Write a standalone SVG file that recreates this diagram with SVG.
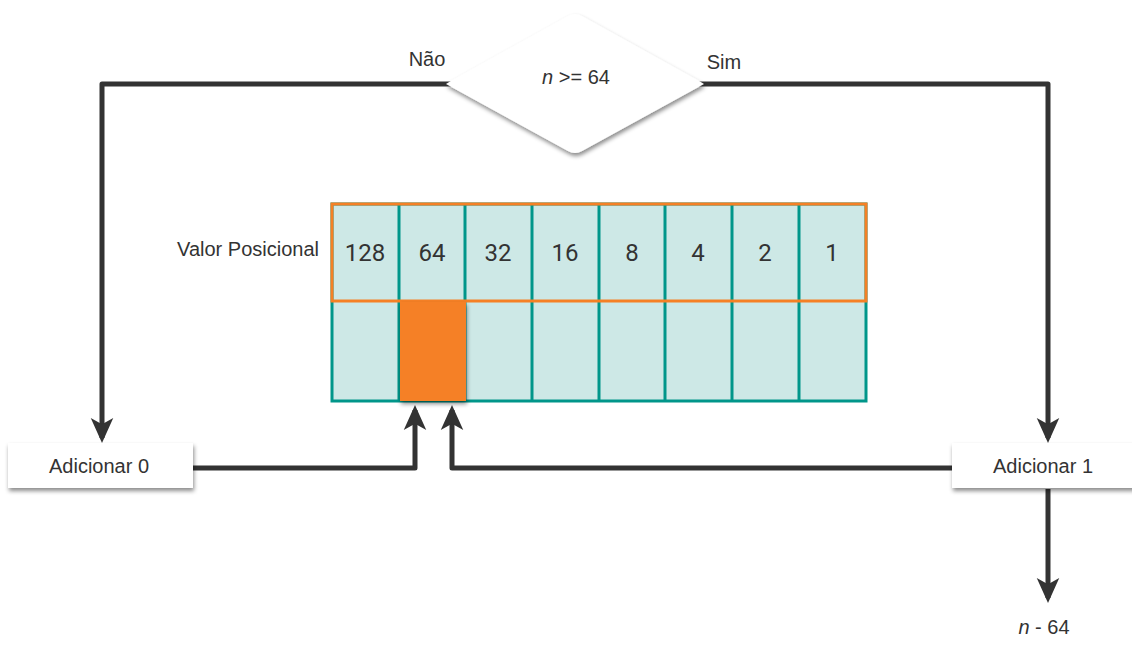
<svg xmlns="http://www.w3.org/2000/svg" width="1132" height="648" viewBox="0 0 1132 648">
<style>
.ln{fill:none;stroke:#333;stroke-width:5;stroke-linejoin:round}
.t{font-family:"Liberation Sans",Arial,sans-serif;font-size:20px;fill:#333}
.num{font-family:Roboto,"Liberation Sans",sans-serif;font-size:24px;fill:#333;text-anchor:middle}
.cell{fill:#cde8e6;stroke:#00968a;stroke-width:3}
</style>
<defs>
<marker id="ah" viewBox="0 0 20 20" refX="16" refY="10" markerWidth="5" markerHeight="5" markerUnits="strokeWidth" orient="auto">
<path d="M0,1 L20,10 L0,19 L5,10 Z" fill="#333"/>
</marker>
<filter id="sh" x="-20%" y="-20%" width="140%" height="150%">
<feDropShadow dx="1" dy="3" stdDeviation="2" flood-color="#000" flood-opacity="0.45"/>
</filter>
</defs>
<rect width="1132" height="648" fill="#fff"/>
<g id="connectors">
<polyline class="ln" points="452,84 102,84 102,438" marker-end="url(#ah)"/>
<polyline class="ln" points="698,84 1048,84 1048,438" marker-end="url(#ah)"/>
<polyline class="ln" points="193,468 415,468 415,410" marker-end="url(#ah)"/>
<polyline class="ln" points="952,468 452,468 452,410" marker-end="url(#ah)"/>
<polyline class="ln" points="1048,489 1048,598" marker-end="url(#ah)"/>
</g>
<g id="decision">
<path d="M446,84 Q452,80 458,77 L568,16 Q575,12 582,16 L692,77 Q698,80 704,84 L582,151 Q575,155 568,151 Z" fill="#fff" filter="url(#sh)"/>
<text class="t" x="576" y="84" text-anchor="middle"><tspan font-style="italic">n</tspan> &gt;= 64</text>
</g>
<text class="t" x="427" y="66" text-anchor="middle">Não</text>
<text class="t" x="724" y="69" text-anchor="middle">Sim</text>
<g id="table">
<text class="t" x="319" y="256" text-anchor="end">Valor Posicional</text>
<rect class="cell" x="332" y="204" width="534" height="197"/>
<g stroke="#00968a" stroke-width="3">
<line x1="399" y1="204" x2="399" y2="401"/>
<line x1="465" y1="204" x2="465" y2="401"/>
<line x1="532" y1="204" x2="532" y2="401"/>
<line x1="599" y1="204" x2="599" y2="401"/>
<line x1="665" y1="204" x2="665" y2="401"/>
<line x1="732" y1="204" x2="732" y2="401"/>
<line x1="799" y1="204" x2="799" y2="401"/>
</g>
<rect x="332" y="204" width="534" height="97" fill="none" stroke="#f58025" stroke-width="3"/>
<rect x="400" y="302" width="66" height="99" fill="#f58025" filter="url(#sh)"/>
<text class="num" x="365" y="261">128</text>
<text class="num" x="432" y="261">64</text>
<text class="num" x="498" y="261">32</text>
<text class="num" x="565" y="261">16</text>
<text class="num" x="632" y="261">8</text>
<text class="num" x="698" y="261">4</text>
<text class="num" x="765" y="261">2</text>
<text class="num" x="832" y="261">1</text>
</g>
<g id="add0">
<rect x="8" y="443" width="185" height="45" fill="#fff" filter="url(#sh)"/>
<text class="t" x="99" y="473" text-anchor="middle">Adicionar 0</text>
</g>
<g id="add1">
<rect x="952" y="443" width="185" height="45" fill="#fff" filter="url(#sh)"/>
<text class="t" x="1043" y="473" text-anchor="middle">Adicionar 1</text>
</g>
<g id="result">
<text class="t" x="1044" y="634" text-anchor="middle"><tspan font-style="italic">n</tspan> - 64</text>
</g>
</svg>
